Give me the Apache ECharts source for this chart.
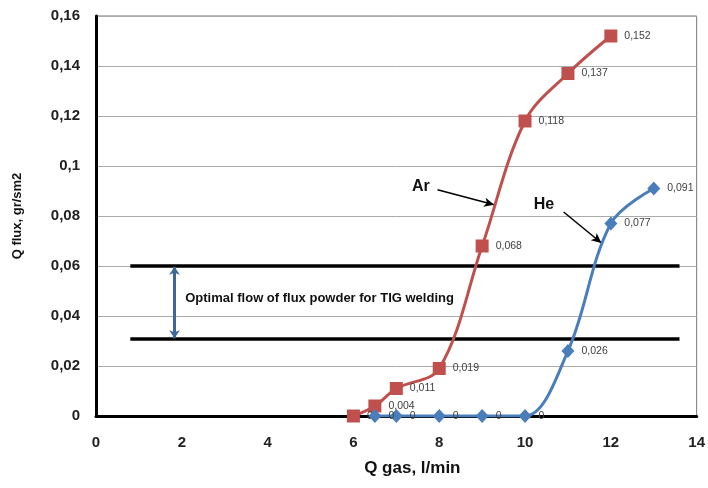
<!DOCTYPE html>
<html>
<head>
<meta charset="utf-8">
<script src="https://cdn.jsdelivr.net/npm/echarts@6/dist/echarts.min.js"></script>
<style>
  html, body { margin: 0; padding: 0; background: #fff; }
  #chart { width: 708px; height: 488px; }
</style>
</head>
<body>
<div id="chart"></div>
<script>
// Flux powder flow versus shielding gas flow
const arGas  = [6, 6.5, 7, 8, 9, 10, 11, 12];
const arFlux = [0, 0.004, 0.011, 0.019, 0.068, 0.118, 0.137, 0.152];
const heGas  = [6.5, 7, 8, 9, 10, 11, 12, 13];
const heFlux = [0, 0, 0, 0, 0, 0.026, 0.077, 0.091];

// Optimal band limits (flux flow) and the gas range the band lines span
const bandUpper = 0.06;
const bandLower = 0.031;
const bandFrom = 0.8;
const bandTo = 13.6;

const FONT = '"Liberation Sans", Arial, sans-serif';
const comma = v => String(Number(Number(v).toFixed(3))).replace('.', ',');

const chart = echarts.init(document.getElementById('chart'), null, { renderer: 'canvas' });

const labelStyle = {
  show: true,
  position: 'right',
  distance: 7,
  fontFamily: FONT,
  fontSize: 10.5,
  color: '#404040',
  formatter: p => comma(p.value[1])
};

const textPoint = (coord, text, size, position) => ({
  coord: coord,
  symbol: 'circle',
  symbolSize: 0,
  label: {
    show: true,
    position: position,
    distance: 0,
    formatter: text,
    fontFamily: FONT,
    fontWeight: 'bold',
    fontSize: size,
    color: '#111'
  }
});

chart.setOption({
  animation: false,
  grid: {
    left: 96, right: 7, top: 16, bottom: 72,
    show: true, borderColor: '#777', borderWidth: 1
  },
  xAxis: {
    type: 'value',
    min: 0, max: 14, interval: 2,
    name: 'Q gas, l/min',
    nameLocation: 'middle',
    nameGap: 44,
    nameTextStyle: {
      fontFamily: FONT, fontWeight: 'bold', fontSize: 17, color: '#111',
      padding: [0, 0, 0, 32]
    },
    axisLine: { show: true, onZero: false, lineStyle: { color: '#000', width: 3 } },
    axisTick: { show: false },
    splitLine: { show: false },
    axisLabel: {
      margin: 19, fontFamily: FONT, fontWeight: 'bold', fontSize: 15, color: '#222'
    }
  },
  yAxis: {
    type: 'value',
    min: 0, max: 0.16, interval: 0.02,
    name: 'Q flux, gr/sm2',
    nameLocation: 'middle',
    nameGap: 72,
    nameTextStyle: { fontFamily: FONT, fontWeight: 'bold', fontSize: 13, color: '#111' },
    axisLine: { show: true, lineStyle: { color: '#000', width: 3 } },
    axisTick: { show: false },
    splitLine: { show: true, lineStyle: { color: '#ababab', width: 1 } },
    axisLabel: {
      margin: 16, fontFamily: FONT, fontWeight: 'bold', fontSize: 15, color: '#222',
      formatter: v => comma(v)
    }
  },
  series: [
    {
      name: 'Ar',
      type: 'line',
      data: arGas.map((g, i) => [g, arFlux[i]]),
      smooth: 0.35,
      symbol: 'rect',
      symbolSize: 13,
      z: 4,
      itemStyle: { color: '#c0504d' },
      lineStyle: { color: '#c0504d', width: 3 },
      label: labelStyle,
      markLine: {
        silent: true,
        z: 3,
        label: { show: false },
        data: [
          // optimal band boundaries
          [
            { coord: [bandFrom, bandUpper], symbol: 'none' },
            { coord: [bandTo, bandUpper], symbol: 'none', lineStyle: { color: '#000', width: 3.5, type: 'solid' } }
          ],
          [
            { coord: [bandFrom, bandLower], symbol: 'none' },
            { coord: [bandTo, bandLower], symbol: 'none', lineStyle: { color: '#000', width: 3.5, type: 'solid' } }
          ],
          // band height indicator
          [
            { coord: [1.83, 0.0597], symbol: 'arrow', symbolSize: [8, 8] },
            { coord: [1.83, 0.0311], symbol: 'arrow', symbolSize: [8, 8], lineStyle: { color: '#3d6897', width: 3, type: 'solid' } }
          ],
          // pointer to the Ar curve
          [
            { coord: [7.96, 0.0905], symbol: 'none' },
            { coord: [9.28, 0.0845], symbol: 'arrow', symbolSize: [7, 10], lineStyle: { color: '#000', width: 1.5, type: 'solid' } }
          ],
          // pointer to the He curve
          [
            { coord: [10.9, 0.0816], symbol: 'none' },
            { coord: [11.78, 0.0692], symbol: 'arrow', symbolSize: [7, 10], lineStyle: { color: '#000', width: 1.5, type: 'solid' } }
          ]
        ]
      },
      markPoint: {
        silent: true,
        data: [
          textPoint([7.57, 0.0918], 'Ar', 16, 'inside'),
          textPoint([10.44, 0.0846], 'He', 16, 'inside'),
          textPoint([2.08, 0.0472], 'Optimal flow of flux powder for TIG welding', 13, 'right')
        ]
      }
    },
    {
      name: 'He',
      type: 'line',
      data: heGas.map((g, i) => [g, heFlux[i]]),
      smooth: 0.35,
      symbol: 'diamond',
      symbolSize: [13, 14],
      z: 5,
      itemStyle: { color: '#4a7ebb' },
      lineStyle: { color: '#4a7ebb', width: 3 },
      label: labelStyle
    }
  ]
});
</script>
</body>
</html>
